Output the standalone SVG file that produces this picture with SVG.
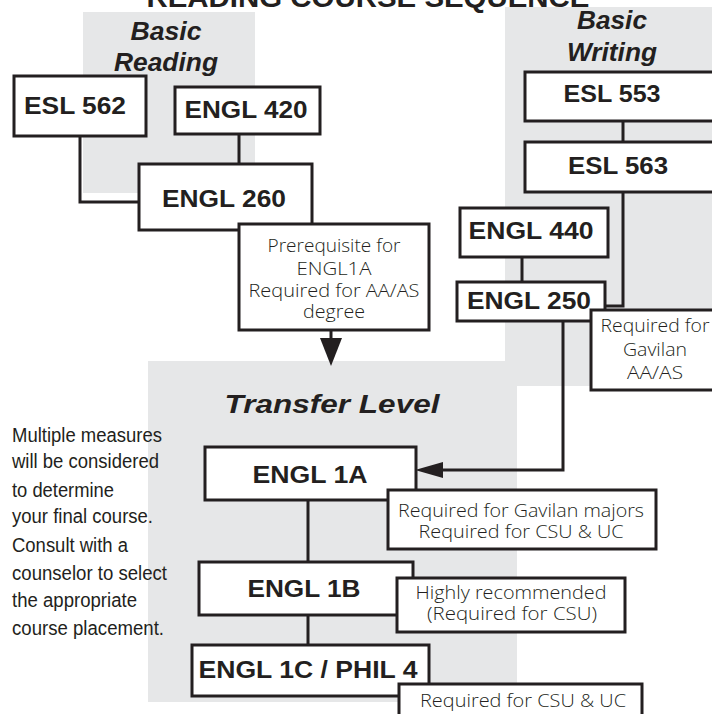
<svg xmlns="http://www.w3.org/2000/svg" width="712" height="714" viewBox="0 0 712 714">
<style>
.panel{fill:#e6e7e8;stroke:none}
.box{fill:#fff;stroke:#231f20;stroke-width:3}
.note{fill:#fff;stroke:#231f20;stroke-width:3}
.lbl{font-family:"Liberation Sans",Arial,sans-serif;font-weight:bold;font-size:24px;fill:#231f20;text-anchor:middle}
.hd{font-family:"Liberation Sans",Arial,sans-serif;font-weight:bold;font-style:italic;font-size:25px;fill:#231f20;text-anchor:middle}
.nt{font-family:"Open Sans","Liberation Sans",sans-serif;font-weight:300;font-size:18px;fill:#231f20;text-anchor:middle}
.side{font-family:"Liberation Sans",Arial,sans-serif;font-size:20px;fill:#231f20}
.conn{fill:none;stroke:#231f20;stroke-width:3}
.ah{fill:#231f20;stroke:none}
</style>
<rect width="712" height="714" fill="#fff"/>
<g id="panels">
<rect class="panel" x="83" y="12" width="172" height="181"/>
<rect class="panel" x="505" y="7" width="210" height="379"/>
<rect class="panel" x="148" y="361" width="369" height="341"/>
</g>
<text x="368" y="6.5" font-family="Liberation Sans,Arial,sans-serif" font-weight="bold" font-size="28" fill="#231f20" text-anchor="middle" textLength="443" lengthAdjust="spacingAndGlyphs">READING COURSE SEQUENCE</text>
<g id="headings">
<text class="hd" x="166" y="40" textLength="71" lengthAdjust="spacingAndGlyphs">Basic</text>
<text class="hd" x="166" y="71" textLength="104" lengthAdjust="spacingAndGlyphs">Reading</text>
<text class="hd" x="612" y="29" textLength="70" lengthAdjust="spacingAndGlyphs">Basic</text>
<text class="hd" x="612" y="61" textLength="90" lengthAdjust="spacingAndGlyphs">Writing</text>
<text class="hd" x="332" y="413" font-size="28" textLength="215" lengthAdjust="spacingAndGlyphs">Transfer Level</text>
</g>
<g id="connectors">
<path class="conn" d="M80,136 V202 H139"/>
<path class="conn" d="M239,134 V164"/>
<path class="conn" d="M331,330 V342"/>
<polygon class="ah" points="320,338 342,338 331,366"/>
<path class="conn" d="M623,121 V142"/>
<path class="conn" d="M623,192 V306 H605"/>
<path class="conn" d="M522,257 V282"/>
<path class="conn" d="M563,321 V470 H440"/>
<polygon class="ah" points="415,470 443,462 443,478"/>
<path class="conn" d="M308,500 V562"/>
<path class="conn" d="M308,615 V645"/>
</g>
<g id="esl562"><rect class="box" x="14" y="76" width="132" height="60"/><text class="lbl" x="75" y="114" textLength="102" lengthAdjust="spacingAndGlyphs">ESL 562</text></g>
<g id="engl420"><rect class="box" x="175" y="87" width="145" height="47"/><text class="lbl" x="246" y="118" textLength="123" lengthAdjust="spacingAndGlyphs">ENGL 420</text></g>
<g id="engl260"><rect class="box" x="139" y="164" width="173" height="66"/><text class="lbl" x="224" y="207" textLength="124" lengthAdjust="spacingAndGlyphs">ENGL 260</text></g>
<g id="note260"><rect class="note" x="239" y="224" width="190" height="106"/>
<text class="nt" x="334" y="252" textLength="133" lengthAdjust="spacingAndGlyphs">Prerequisite for</text>
<text class="nt" x="334" y="275" textLength="75" lengthAdjust="spacingAndGlyphs">ENGL1A</text>
<text class="nt" x="334" y="297" textLength="171" lengthAdjust="spacingAndGlyphs">Required for AA/AS</text>
<text class="nt" x="334" y="318" textLength="62" lengthAdjust="spacingAndGlyphs">degree</text></g>
<g id="esl553"><rect class="box" x="525" y="72" width="195" height="49"/><text class="lbl" x="612" y="102" textLength="97" lengthAdjust="spacingAndGlyphs">ESL 553</text></g>
<g id="esl563"><rect class="box" x="525" y="142" width="195" height="50"/><text class="lbl" x="618" y="174" textLength="100" lengthAdjust="spacingAndGlyphs">ESL 563</text></g>
<g id="engl440"><rect class="box" x="460" y="208" width="148" height="49"/><text class="lbl" x="531" y="239" textLength="125" lengthAdjust="spacingAndGlyphs">ENGL 440</text></g>
<g id="engl250"><rect class="box" x="457" y="282" width="148" height="39"/><text class="lbl" x="529" y="309" textLength="124" lengthAdjust="spacingAndGlyphs">ENGL 250</text></g>
<g id="note250"><rect class="note" x="591" y="310" width="130" height="80"/>
<text class="nt" x="655" y="332" textLength="109" lengthAdjust="spacingAndGlyphs">Required for</text>
<text class="nt" x="655" y="356" textLength="64" lengthAdjust="spacingAndGlyphs">Gavilan</text>
<text class="nt" x="655" y="379" textLength="56" lengthAdjust="spacingAndGlyphs">AA/AS</text></g>
<g id="engl1a"><rect class="box" x="205" y="447" width="211" height="53"/><text class="lbl" x="310" y="483" textLength="115" lengthAdjust="spacingAndGlyphs">ENGL 1A</text></g>
<g id="note1a"><rect class="note" x="388" y="490" width="268" height="59"/>
<text class="nt" x="521" y="517" textLength="246" lengthAdjust="spacingAndGlyphs">Required for Gavilan majors</text>
<text class="nt" x="521" y="538" textLength="205" lengthAdjust="spacingAndGlyphs">Required for CSU &amp; UC</text></g>
<g id="engl1b"><rect class="box" x="199" y="562" width="214" height="53"/><text class="lbl" x="304" y="597" textLength="113" lengthAdjust="spacingAndGlyphs">ENGL 1B</text></g>
<g id="note1b"><rect class="note" x="397" y="578" width="228" height="54"/>
<text class="nt" x="511" y="599" textLength="191" lengthAdjust="spacingAndGlyphs">Highly recommended</text>
<text class="nt" x="512" y="620" textLength="170" lengthAdjust="spacingAndGlyphs">(Required for CSU)</text></g>
<g id="engl1c"><rect class="box" x="192" y="645" width="237" height="51"/><text class="lbl" x="308" y="678" textLength="219" lengthAdjust="spacingAndGlyphs">ENGL 1C / PHIL 4</text></g>
<g id="note1c"><rect class="note" x="399" y="684" width="243" height="40"/>
<text class="nt" x="523" y="707" textLength="206" lengthAdjust="spacingAndGlyphs">Required for CSU &amp; UC</text></g>
<g id="sidenote">
<text class="side" x="12" y="442" textLength="150" lengthAdjust="spacingAndGlyphs">Multiple measures</text>
<text class="side" x="12" y="468" textLength="147" lengthAdjust="spacingAndGlyphs">will be considered</text>
<text class="side" x="12" y="497" textLength="102" lengthAdjust="spacingAndGlyphs">to determine</text>
<text class="side" x="12" y="523" textLength="141" lengthAdjust="spacingAndGlyphs">your final course.</text>
<text class="side" x="12" y="552" textLength="116" lengthAdjust="spacingAndGlyphs">Consult with a</text>
<text class="side" x="12" y="580" textLength="155" lengthAdjust="spacingAndGlyphs">counselor to select</text>
<text class="side" x="12" y="607" textLength="125" lengthAdjust="spacingAndGlyphs">the appropriate</text>
<text class="side" x="12" y="635" textLength="152" lengthAdjust="spacingAndGlyphs">course placement.</text>
</g>
</svg>
